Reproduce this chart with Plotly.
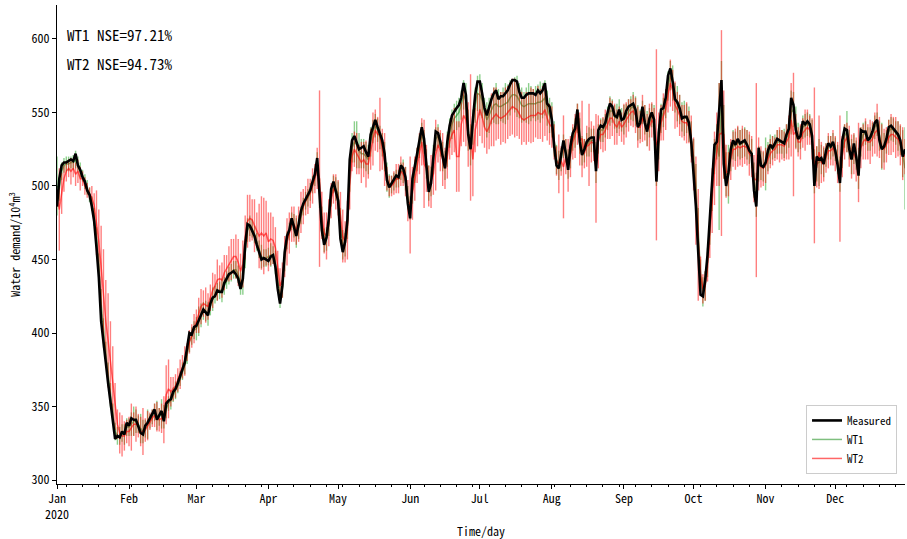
import pandas as pd
import plotly.graph_objects as go

# Daily water demand in 2020 (10^4 m^3), one line per month
measured = [
    486,505,514,516,516,517,518,517,522,514,511,506,503,497,494,486,476,458,438,408,392,380,366,352,338,328,330,329,333,331,339,
    337,342,341,341,337,332,331,337,339,342,346,348,341,344,347,340,352,354,355,360,362,366,371,376,380,390,400,399,404,
    405,409,412,416,414,412,420,424,425,429,428,428,434,437,440,441,442,440,437,430,437,460,474,473,470,466,460,455,450,451,450,
    449,452,453,445,430,420,432,455,466,470,478,472,466,474,483,488,491,493,497,503,508,519,490,470,460,465,478,498,503,497,
    490,464,455,462,477,518,531,534,529,525,526,527,523,520,535,541,545,540,535,531,522,504,499,502,505,507,506,514,512,506,488,
    478,505,515,522,531,540,532,512,496,502,522,537,536,530,520,512,530,541,548,551,553,555,560,570,562,535,525,545,562,571,
    571,563,553,548,554,559,563,565,559,561,561,563,565,569,572,572,571,564,560,560,562,563,563,563,562,565,563,565,570,556,554,
    545,527,514,512,521,531,522,511,527,536,539,552,530,521,525,530,532,533,533,510,538,541,540,543,550,556,554,548,547,552,545,
    546,551,554,555,556,552,540,543,554,543,537,546,550,545,503,536,552,553,560,575,580,571,559,557,553,546,547,547,543,530,
    510,486,455,426,425,436,453,476,503,528,530,549,572,515,500,509,525,531,528,532,529,530,531,528,524,522,497,486,526,514,513,
    516,524,528,526,529,532,531,530,529,535,539,560,555,538,532,534,544,542,544,542,534,500,520,518,519,515,524,529,527,530,
    524,514,502,531,539,538,525,518,529,520,507,538,537,537,531,533,537,543,545,531,525,527,532,540,541,539,537,535,531,520,525,
]

wt1 = [
    500,498,510,514,515,515,516,516,518,515,511,507,503,499,494,488,479,465,446,420,400,386,372,358,345,333,330,330,332,331,336,
    336,338,340,340,338,335,333,335,338,340,343,346,344,343,345,343,348,352,354,358,361,364,369,374,378,385,394,398,402,
    403,408,412,415,415,413,418,423,426,428,429,429,432,436,439,441,443,443,440,434,436,454,470,473,471,467,462,457,452,451,451,
    452,453,453,448,436,425,430,450,463,469,476,473,468,472,480,486,490,492,496,501,506,515,495,476,463,464,474,492,501,498,
    495,475,460,460,472,508,526,530,528,524,522,522,520,518,530,537,541,538,533,528,520,506,500,501,503,505,505,510,510,505,492,
    485,498,510,518,527,535,530,515,502,503,518,532,534,528,520,514,525,536,542,546,548,550,555,562,558,538,528,540,555,563,
    562,558,550,545,548,552,555,556,554,554,555,556,557,560,562,562,561,558,555,554,555,556,556,556,556,557,557,558,560,553,548,
    545,532,518,514,518,527,524,515,522,532,536,546,534,524,524,528,530,531,531,516,532,538,538,541,546,551,551,547,546,549,545,
    545,548,551,553,554,551,543,542,550,545,539,543,548,545,515,530,546,550,556,568,575,570,560,556,552,547,546,546,542,532,
    520,500,470,440,428,432,448,470,495,520,530,520,560,530,508,508,520,528,527,530,528,529,530,528,525,522,504,494,515,514,513,
    515,520,525,526,527,530,530,530,529,532,536,550,552,540,533,533,540,541,542,541,535,510,515,516,518,516,521,526,526,528,
    525,518,508,522,534,537,528,520,525,521,512,530,535,536,532,532,535,540,542,534,527,526,530,537,539,538,536,534,531,522,512,
]

wt1_err = [
    20,8,6,5,5,5,4,5,6,5,5,4,5,5,5,5,6,7,8,10,10,8,8,8,7,6,6,6,6,7,6,
    6,8,10,8,6,10,8,6,10,5,5,6,10,6,10,8,6,5,6,5,6,5,5,6,6,6,7,6,6,
    8,10,8,6,7,8,6,8,6,6,6,8,6,6,6,6,6,6,6,8,10,10,8,7,6,6,6,6,8,6,6,
    6,8,6,8,8,8,6,8,6,6,6,8,10,8,6,6,6,6,6,6,6,8,10,10,8,8,8,6,6,8,
    8,10,10,8,8,12,10,14,16,12,10,10,10,10,10,8,8,8,8,8,10,10,8,6,6,6,6,6,8,8,8,
    8,10,8,8,8,8,8,10,12,10,10,8,8,8,10,10,12,10,10,10,10,10,10,10,12,14,14,12,12,12,
    14,12,10,12,12,10,12,14,12,10,12,14,12,12,10,12,14,12,12,10,12,14,12,10,12,12,14,12,12,12,12,
    12,12,10,10,8,8,8,10,10,8,10,10,12,10,8,8,10,8,8,14,10,8,8,8,8,10,8,8,10,10,8,
    10,8,8,8,10,10,12,10,8,10,12,10,8,10,15,12,10,10,10,10,10,12,10,12,10,10,12,10,12,12,
    12,15,15,10,10,10,10,10,12,12,12,50,25,25,15,20,10,10,10,10,10,10,10,10,10,10,12,15,12,10,10,
    18,10,10,8,8,8,8,8,10,10,10,15,12,14,10,8,8,8,8,8,10,15,12,16,10,10,8,8,8,8,
    8,10,12,10,8,14,10,12,10,10,14,10,8,8,8,8,8,8,8,10,16,10,8,8,8,8,8,10,10,16,28,
]

wt2 = [
    492,484,495,505,510,512,510,512,508,510,505,505,500,497,495,492,487,475,462,445,425,408,395,380,365,350,338,332,330,330,333,
    333,336,338,338,337,333,333,334,337,340,342,344,343,341,342,341,358,362,360,362,364,368,372,377,381,387,394,398,403,
    408,412,418,420,419,418,424,429,432,436,437,436,441,444,447,450,452,452,448,442,447,465,476,478,477,473,470,466,468,466,468,
    462,464,463,458,444,432,436,452,462,468,474,474,470,474,482,486,490,493,495,500,505,512,505,480,468,466,475,490,498,496,
    492,480,466,462,470,500,520,525,522,518,516,518,515,515,525,532,538,535,535,525,518,505,500,500,502,505,505,510,508,503,490,
    487,495,505,514,522,530,515,512,500,503,508,521,528,524,518,512,520,530,535,538,520,520,542,548,545,535,533,518,538,545,
    552,547,540,537,540,545,547,549,547,546,547,548,550,552,554,553,552,549,546,545,546,547,548,548,548,550,549,549,552,546,542,
    540,530,517,515,517,513,520,514,520,530,534,542,532,532,522,527,528,530,529,512,530,535,535,538,542,546,546,542,540,544,540,
    542,545,548,550,551,548,540,540,546,543,538,540,545,542,528,530,543,547,552,562,570,565,555,552,548,544,543,543,540,532,
    515,490,460,440,430,432,445,465,490,512,525,535,536,535,510,508,518,525,525,527,526,527,527,526,522,520,505,504,515,513,512,
    514,518,522,524,525,528,528,528,527,530,533,545,535,537,530,530,536,538,540,538,532,514,513,523,516,515,519,524,524,526,
    522,516,505,520,530,533,527,520,522,518,516,526,530,532,530,530,532,536,538,533,527,525,528,533,535,535,533,532,528,522,520,
]

wt2_err = [
    6,28,14,9,7,6,9,6,8,8,8,5,6,5,4,8,8,22,22,28,32,28,32,28,26,16,10,14,14,10,8,
    10,16,8,12,8,10,16,8,10,6,6,8,10,8,10,16,20,20,10,8,8,8,10,8,10,6,8,8,10,
    8,12,12,9,12,9,9,12,8,14,9,12,12,9,12,14,12,15,16,12,16,15,18,16,14,18,12,22,25,26,22,
    20,18,16,14,12,12,12,14,16,14,12,12,10,12,14,12,10,12,10,12,10,14,60,16,14,16,16,12,10,12,
    12,16,18,14,20,16,10,12,14,10,14,12,16,10,14,18,14,12,25,14,18,8,7,7,8,10,10,10,8,10,14,
    33,18,15,12,14,16,30,16,14,18,14,24,12,14,18,14,15,12,14,15,24,24,15,18,18,22,43,25,15,18,
    18,18,14,15,15,18,20,18,15,18,17,19,18,18,19,20,18,17,18,15,18,17,19,18,15,18,17,19,18,15,14,
    14,12,10,20,10,35,12,18,14,12,15,14,18,26,10,14,28,14,12,37,18,10,12,14,10,14,12,14,12,10,10,
    14,12,11,9,11,12,14,11,16,12,11,16,12,11,65,20,12,16,14,12,16,14,16,12,14,11,12,14,11,16,
    18,30,38,12,10,10,10,14,22,25,25,35,70,30,18,15,14,12,14,14,12,14,12,12,15,14,16,66,18,14,12,
    12,10,10,10,8,10,12,10,10,12,15,25,42,12,10,12,10,14,12,10,14,53,14,25,14,12,10,12,10,12,
    12,14,43,14,12,10,14,15,14,15,27,14,12,14,12,15,12,14,18,14,15,14,12,12,14,12,14,12,14,18,12,
]

month_starts = ["2020-%02d-01" % m for m in range(1, 13)]
month_labels = ["Jan<br>2020", "Feb", "Mar", "Apr", "May", "Jun",
                "Jul", "Aug", "Sep", "Oct", "Nov", "Dec"]
y_ticks = [300, 350, 400, 450, 500, 550, 600]
nse_labels = ["WT1 NSE=97.21%", "WT2 NSE=94.73%"]

dates = pd.date_range("2020-01-01", periods=len(measured), freq="D")

FONT = "Noto Sans Mono CJK SC, Noto Sans CJK SC, DejaVu Sans Mono, monospace"

fig = go.Figure()
# predictions with their error bars, underneath the measured curve
fig.add_trace(go.Scatter(
    x=dates, y=wt1, mode="lines", name="WT1", legendrank=2,
    line=dict(color="rgba(0,128,0,0.5)", width=1.5),
    error_y=dict(type="data", array=wt1_err, visible=True,
                 color="rgba(0,150,0,0.45)", thickness=1.4, width=0),
))
fig.add_trace(go.Scatter(
    x=dates, y=wt2, mode="lines", name="WT2", legendrank=3,
    line=dict(color="rgba(255,0,0,0.6)", width=1.5),
    error_y=dict(type="data", array=wt2_err, visible=True,
                 color="rgba(255,0,0,0.5)", thickness=1.4, width=0),
))
fig.add_trace(go.Scatter(
    x=dates, y=measured, mode="lines", name="Measured", legendrank=1,
    line=dict(color="black", width=2.6),
))

for i, txt in enumerate(nse_labels):
    fig.add_annotation(
        xref="paper", yref="paper", x=0.01, y=0.939 - i * 0.062,
        text=txt, showarrow=False, xanchor="left", yanchor="middle",
        font=dict(family=FONT, size=15, color="black"),
    )

fig.update_layout(
    width=907, height=539,
    margin=dict(l=57, r=2, t=5, b=55),
    paper_bgcolor="white", plot_bgcolor="white",
    font=dict(family=FONT, size=12, color="black"),
    showlegend=True,
    legend=dict(
        x=0.9906, y=0.021, xanchor="right", yanchor="bottom",
        bgcolor="white", bordercolor="#cccccc", borderwidth=1,
        font=dict(family=FONT, size=11), itemwidth=30, tracegroupgap=0,
        traceorder="normal",
    ),
    xaxis=dict(
        type="date", range=["2020-01-01", "2020-12-31"],
        tickvals=month_starts, ticktext=month_labels,
        ticks="outside", ticklen=4, tickcolor="black",
        showline=True, linecolor="black", linewidth=1,
        showgrid=False, zeroline=False,
        minor=dict(ticks="outside", ticklen=2, tickcolor="black",
                   dtick=7 * 86400000, tick0="2020-01-05", showgrid=False),
        title=dict(text="Time/day", standoff=6, font=dict(family=FONT, size=12)),
    ),
    yaxis=dict(
        range=[297.3, 623.1], tickvals=y_ticks,
        ticks="outside", ticklen=4, tickcolor="black",
        showline=True, linecolor="black", linewidth=1,
        showgrid=False, zeroline=False,
        title=dict(text="Water demand/10<sup>4</sup>m<sup>3</sup>", standoff=8,
                   font=dict(family=FONT, size=12)),
    ),
)

fig.write_html("out.html")
